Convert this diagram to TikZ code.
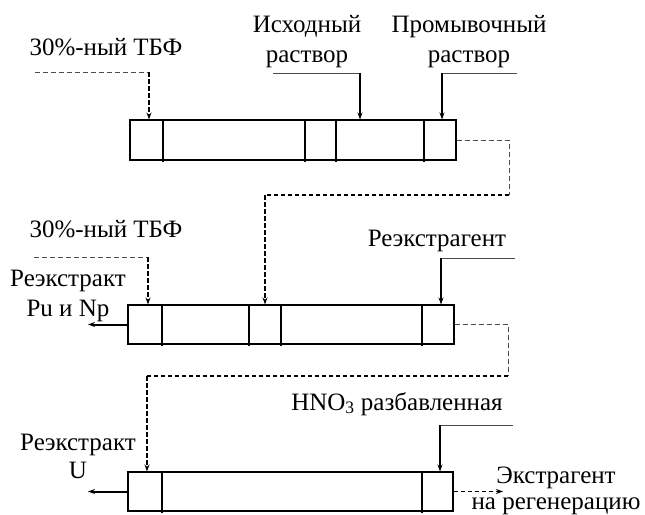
\documentclass[tikz,border=0pt]{standalone}
\usepackage{fontspec}
\setmainfont{Liberation Serif}
\usetikzlibrary{arrows.meta}
\begin{document}
\begin{tikzpicture}[x=1pt,y=-1pt,
  lbl/.style={inner sep=0pt,align=center,anchor=base,font=\fontsize{25}{30}\selectfont},
  box/.style={draw,line width=1.1pt,minimum width=326pt,minimum height=40pt,inner sep=0pt},
  divider/.style={line width=1.1pt},
  feedline/.style={line width=1pt,draw=black!70},
  feedarrow/.style={line width=2pt,-{Stealth[length=7pt,width=5pt]}},
  dashthin/.style={line width=1pt,draw=black!70,dash pattern=on 5pt off 3pt},
  dashthick/.style={line width=1.8pt,dash pattern=on 4.5pt off 2.5pt,-{Stealth[length=7pt,width=5pt]}},
  dashflat/.style={line width=1.6pt,dash pattern=on 4.5pt off 2.5pt}]
\useasboundingbox (0,0) rectangle (645,514);

% boxes
\node[box] (b1) at (293,140) {};
\node[box,minimum height=39pt] (b2) at (291,324.5) {};
\node[box,minimum width=325pt,minimum height=39pt] (b3) at (290.5,491.5) {};

\foreach \x in {163,305,336,424} \draw[divider] (\x,120) -- (\x,162);
\foreach \x in {162,249,281,422} \draw[divider] (\x,305) -- (\x,346);
\foreach \x in {162,422} \draw[divider] (\x,472) -- (\x,513);

% labels
\node[lbl] (tbf1) at (106,55) {30\%-ный ТБФ};
\node[lbl] (isx) at (307,62) {Исходный\\раствор};
\node[lbl] (prom) at (469,62) {Промывочный\\раствор};
\node[lbl] (tbf2) at (106,237) {30\%-ный ТБФ};
\node[lbl] (rePu) at (68,316) {Реэкстракт\\Pu и Np};
\node[lbl] (reag) at (437,246) {Реэкстрагент};
\node[lbl,font=\fontsize{25}{28}\selectfont] (reU) at (78,478) {Реэкстракт\\U};
\node[lbl] (hno) at (397,410) {HNO\textsubscript{3} разбавленная};
\node[lbl,font=\fontsize{25}{26}\selectfont] (extr) at (556,509) {Экстрагент\\на регенерацию};

% feeds to box 1
\coordinate (f1s) at (35,72); \coordinate (f1c) at (149,72);
\draw[dashthin] (f1s) -- (f1c);
\draw[dashthick] (f1c) -- (f1c |- b1.north);
\coordinate (f2s) at (273,73); \coordinate (f2c) at (360,73);
\draw[feedline] (f2s) -- (f2c);
\draw[feedarrow] (f2c) -- (f2c |- b1.north);
\coordinate (f3s) at (517,73); \coordinate (f3c) at (442,73);
\draw[feedline] (f3s) -- (f3c);
\draw[feedarrow] (f3c) -- (f3c |- b1.north);

% box1 -> box2
\coordinate (c1a) at (509,140); \coordinate (c1b) at (509,195); \coordinate (c1c) at (265,195);
\draw[dashthin] (b1.east) -- (c1a) -- (c1b);
\draw[dashflat] (c1b) -- (c1c);
\draw[dashthick] (c1c) -- (c1c |- b2.north);

% feeds to box 2
\coordinate (g1s) at (34,257); \coordinate (g1c) at (148,257);
\draw[dashthin] (g1s) -- (g1c);
\draw[dashthick] (g1c) -- (g1c |- b2.north);
\coordinate (g2s) at (515,258); \coordinate (g2c) at (441,258);
\draw[feedline] (g2s) -- (g2c);
\draw[feedarrow] (g2c) -- (g2c |- b2.north);
\coordinate (pu) at (88,324.5);
\draw[feedarrow] (b2.west) -- (pu);

% box2 -> box3
\coordinate (c2a) at (508,324.5); \coordinate (c2b) at (508,376); \coordinate (c2c) at (147,376);
\draw[dashthin] (b2.east) -- (c2a) -- (c2b);
\draw[dashflat] (c2b) -- (c2c);
\draw[dashthick] (c2c) -- (c2c |- b3.north);

% box 3
\coordinate (h1s) at (513,425); \coordinate (h1c) at (440,425);
\draw[feedline] (h1s) -- (h1c);
\draw[feedarrow] (h1c) -- (h1c |- b3.north);
\coordinate (uo) at (88,491.5);
\draw[feedarrow] (b3.west) -- (uo);
\coordinate (eo) at (503,491.5);
\draw[dashthick] (b3.east) -- (eo);
\end{tikzpicture}
\end{document}
